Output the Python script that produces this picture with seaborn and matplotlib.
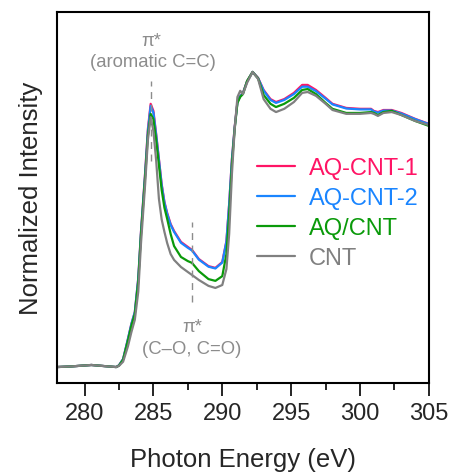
import numpy as np
import pandas as pd
import seaborn as sns
import matplotlib.pyplot as plt
from matplotlib.ticker import MultipleLocator

# C K-edge NEXAFS spectra (normalized)
energy = [278.0, 279.0, 280.5, 281.5, 282.3, 282.5, 282.8, 283.15, 283.4, 283.65,
          283.9, 284.1, 284.4, 284.6, 284.8, 285.0, 285.2, 285.4, 285.6, 285.8,
          286.0, 286.25, 286.5, 287.0, 287.5, 287.8, 288.3, 289.0, 289.5, 290.0,
          290.3, 290.5, 290.7, 290.9, 291.1, 291.3, 291.5, 291.8, 292.2, 292.6,
          293.0, 293.5, 293.9, 294.5, 295.2, 295.8, 296.2, 296.8, 297.5, 298.0,
          299.0, 300.0, 300.8, 301.0, 301.3, 301.7, 302.3, 303.0, 304.0, 305.0]

aq_cnt_1 = [0.000, 0.002, 0.007, 0.003, 0.000, 0.006, 0.027, 0.095, 0.146, 0.186,
            0.300, 0.460, 0.660, 0.807, 0.892, 0.868, 0.790, 0.705, 0.620, 0.560,
            0.522, 0.485, 0.461, 0.424, 0.407, 0.397, 0.366, 0.342, 0.336, 0.356,
            0.427, 0.553, 0.705, 0.814, 0.898, 0.919, 0.929, 0.969, 1.000, 0.980,
            0.939, 0.908, 0.898, 0.908, 0.929, 0.956, 0.956, 0.939, 0.912, 0.892,
            0.878, 0.875, 0.875, 0.868, 0.864, 0.871, 0.871, 0.861, 0.841, 0.824]

aq_cnt_2 = [0.000, 0.002, 0.007, 0.003, 0.000, 0.006, 0.027, 0.095, 0.146, 0.186,
            0.300, 0.458, 0.655, 0.800, 0.885, 0.862, 0.786, 0.702, 0.617, 0.557,
            0.519, 0.482, 0.458, 0.421, 0.404, 0.395, 0.364, 0.340, 0.334, 0.354,
            0.425, 0.551, 0.703, 0.812, 0.897, 0.918, 0.928, 0.968, 1.000, 0.979,
            0.937, 0.905, 0.895, 0.905, 0.925, 0.950, 0.950, 0.935, 0.909, 0.890,
            0.876, 0.873, 0.873, 0.866, 0.862, 0.869, 0.869, 0.859, 0.840, 0.823]

aq_cnt = [0.000, 0.002, 0.007, 0.003, 0.000, 0.005, 0.025, 0.090, 0.140, 0.180,
          0.290, 0.450, 0.645, 0.785, 0.858, 0.840, 0.770, 0.685, 0.600, 0.540,
          0.502, 0.451, 0.410, 0.373, 0.359, 0.353, 0.325, 0.298, 0.292, 0.308,
          0.383, 0.519, 0.688, 0.807, 0.895, 0.915, 0.925, 0.969, 1.000, 0.978,
          0.922, 0.892, 0.881, 0.892, 0.912, 0.939, 0.942, 0.925, 0.895, 0.875,
          0.861, 0.861, 0.864, 0.861, 0.854, 0.864, 0.868, 0.854, 0.834, 0.817]

cnt = [0.000, 0.002, 0.007, 0.003, 0.000, 0.004, 0.018, 0.070, 0.118, 0.160,
       0.255, 0.420, 0.620, 0.770, 0.847, 0.800, 0.700, 0.570, 0.500, 0.458,
       0.420, 0.383, 0.363, 0.339, 0.322, 0.312, 0.295, 0.275, 0.268, 0.278,
       0.332, 0.451, 0.654, 0.807, 0.915, 0.936, 0.925, 0.963, 1.000, 0.976,
       0.908, 0.875, 0.864, 0.875, 0.898, 0.929, 0.932, 0.919, 0.892, 0.871,
       0.858, 0.858, 0.861, 0.858, 0.851, 0.861, 0.864, 0.854, 0.834, 0.820]

samples = ["AQ-CNT-1", "AQ-CNT-2", "AQ/CNT", "CNT"]
colors = ["#FF1465", "#1A85FF", "#0A9A0A", "#808080"]

df = pd.concat([
    pd.DataFrame({"Energy": energy, "Intensity": vals, "Sample": name})
    for name, vals in zip(samples, [aq_cnt_1, aq_cnt_2, aq_cnt, cnt])
], ignore_index=True)

sns.set_theme(style="ticks")
plt.rcParams["font.family"] = ["Liberation Sans", "DejaVu Sans"]

fig = plt.figure(figsize=(4.53, 4.77), dpi=100)
ax = fig.add_axes([0.1258, 0.195, 0.821, 0.7777])

sns.lineplot(data=df, x="Energy", y="Intensity", hue="Sample",
             hue_order=samples, palette=colors, linewidth=1.6,
             sort=False, estimator=None, ax=ax)

ax.set_xlim(278, 305)
ax.set_ylim(-0.054, 1.203)
ax.xaxis.set_major_locator(MultipleLocator(5))
ax.xaxis.set_minor_locator(MultipleLocator(2.5))
ax.set_yticks([])
ax.tick_params(axis="x", which="major", direction="out", length=9, width=1.2,
               labelsize=17, color="black", pad=5)
ax.tick_params(axis="x", which="minor", direction="out", length=5, width=1.2,
               color="black")
for s in ax.spines.values():
    s.set_visible(True)
    s.set_linewidth(1.5)
    s.set_color("black")

ax.set_xlabel("Photon Energy (eV)", fontsize=18.5, labelpad=16)
ax.set_ylabel("Normalized Intensity", fontsize=18.5, labelpad=10)

# Peak assignments
ann = "#8C8C8C"
ax.plot([284.8, 284.8], [0.698, 0.969], ls=(0, (5, 4)), color=ann, lw=1)
ax.text(284.87, 1.105, "π*", ha="center", va="center", fontsize=13.3, color=ann)
ax.text(284.93, 1.034, "(aromatic C=C)", ha="center", va="center",
        fontsize=13.3, color=ann)
ax.plot([287.83, 287.83], [0.22, 0.4915], ls=(0, (5, 4)), color=ann, lw=1)
ax.text(287.8, 0.139, "π*", ha="center", va="center", fontsize=13.3, color=ann)
ax.text(287.8, 0.064, "(C–O, C=O)", ha="center", va="center",
        fontsize=13.3, color=ann)

leg = ax.legend(loc="center left", bbox_to_anchor=(0.538, 0.458),
                frameon=False, fontsize=17, handlelength=1.6,
                handletextpad=0.6, labelspacing=0.33, borderpad=0,
                borderaxespad=0)
for txt, c in zip(leg.get_texts(), colors):
    txt.set_color(c)
for h in leg.get_lines():
    h.set_linewidth(1.6)

fig.savefig("out.png", dpi=100)
